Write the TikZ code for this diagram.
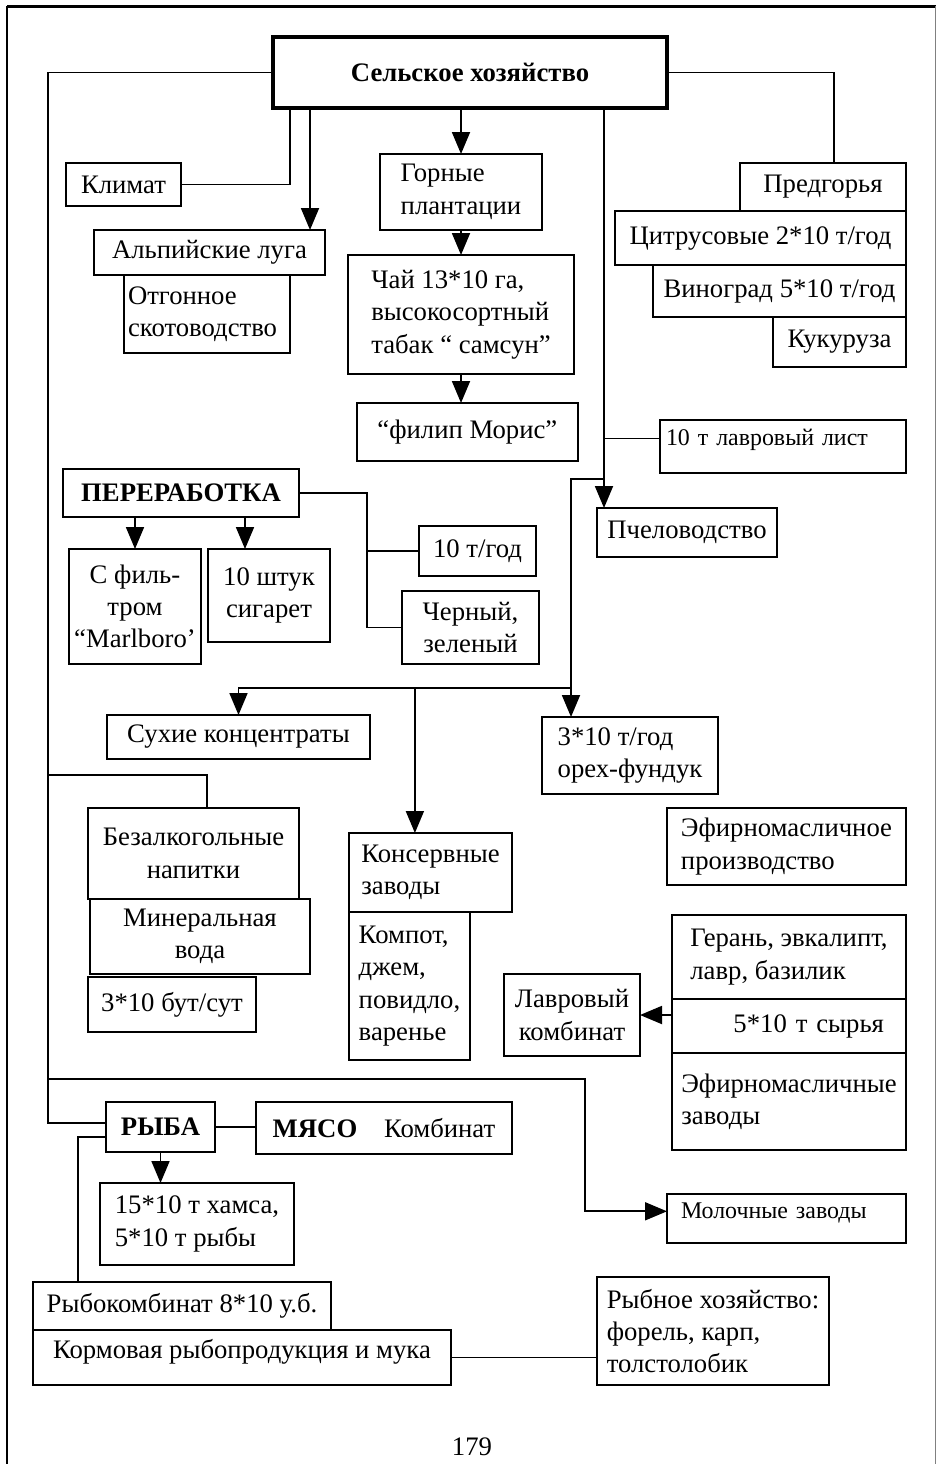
\documentclass[tikz,border=0pt]{standalone}
\usepackage{fontspec}
\setmainfont{Liberation Serif}
\usepackage{tikz}
\usetikzlibrary{
    arrows.meta,
    positioning
}
\newcommand{\chartfont}{\fontsize{19pt}{23pt}\selectfont}
\newcommand{\notefont}{\fontsize{17pt}{20pt}\selectfont}
\tikzset{
    farmhead/.style={
        draw,
        line width=2.6pt,
        outer sep=0pt,
        align=center,
        font=\chartfont\bfseries
    }
}
\tikzset{
    farmbox/.style={
        draw,
        line width=1.5pt,
        outer sep=0pt,
        inner sep=1mm,
        align=center
    }
}
\tikzset{
    farmboxleft/.style={
        farmbox,
        align=left
    }
}
\tikzset{
    sectorhead/.style={
        farmbox,
        font=\chartfont\bfseries
    }
}
\tikzset{
    wh/.style 2 args={
        minimum width=#1,
        minimum height=#2
    }
}
\tikzset{
    link/.style={
        draw,
        line width=1.3pt
    }
}
\tikzset{
    flow/.style={
        draw,
        line width=1.3pt,
        ->,
        >={Triangle[width=4.5mm,length=5.5mm]}
    }
}

\begin{document}
\begin{tikzpicture}[
    font=\chartfont
]
\useasboundingbox (0,0) rectangle (234mm,-366mm);

% page frame
\draw[line width=1.4pt] (1.75mm,-366mm) -- (1.75mm,-1.6mm);
\draw[line width=2.1pt] (1.75mm,-1.6mm) -- (234mm,-1.6mm);
\draw[gray, line width=0.6pt] (233.75mm,-1.6mm) -- (233.75mm,-366mm);

\node[farmhead, wh={98.5mm}{17.75mm}, anchor=north west] (main)
    at (68.25mm,-9.25mm) {Сельское хозяйство};

% mountain side
\node[farmbox, wh={28.75mm}{10.75mm}, below left=13.75mm and 23mm of main.south west] (klimat) {Климат};
\node[farmbox, wh={57.75mm}{11.25mm}, below right=6mm and 7mm of klimat.south west] (alp) {Альпийские луга};
\node[farmboxleft, wh={41.5mm}{19.5mm}, text width=39.5mm, below right=0mm and 7.5mm of alp.south west] (otgon)
    {Отгонное\\скотоводство};

\node[farmboxleft, wh={40.5mm}{19mm}, below right=11.5mm and 26.75mm of main.south west] (gornye)
    {Горные\\плантации};
\node[farmboxleft, wh={56.5mm}{29.75mm}, below=6.25mm of gornye] (chai)
    {Чай 13*10 га,\\высокосортный\\табак “ самсун”};
\node[farmbox, wh={55.25mm}{14.5mm}, below=7.25mm of chai, xshift=1.6mm] (filip) {“филип Морис”};

% foothills
\node[farmbox, wh={41.5mm}{12mm}, below right=13.75mm and 18.25mm of main.south east] (pred) {Предгорья};
\node[farmbox, wh={72.75mm}{13.5mm}, below=0mm of pred.south east, anchor=north east] (citrus)
    {Цитрусовые 2*10 т/год};
\node[farmbox, wh={63.25mm}{13mm}, below=0mm of citrus.south east, anchor=north east] (vinograd)
    {Виноград 5*10 т/год};
\node[farmbox, wh={33.25mm}{12.5mm}, below=0mm of vinograd.south east, anchor=north east] (kukuruza) {Кукуруза};
\node[farmboxleft, wh={61.5mm}{13.25mm}, text width=58.5mm, text depth=4.5mm, font=\notefont,
    below=13.25mm of kukuruza.south east, anchor=north east] (lavrlist) {10 т лавровый лист};
\node[farmbox, wh={45mm}{12.25mm}, below=8.75mm of lavrlist.south west, anchor=north west, xshift=-15.75mm] (pchel)
    {Пчеловодство};

% processing
\node[sectorhead, wh={59mm}{12mm}, below=29mm of otgon.south west, anchor=north west, xshift=-15.25mm] (pererab)
    {ПЕРЕРАБОТКА};
\node[farmbox, wh={33mm}{28.75mm}, below right=8mm and 1.5mm of pererab.south west] (filtr)
    {С филь-\\тром\\“Marlboro’};
\node[farmbox, wh={30.5mm}{23.25mm}, right=1.75mm of filtr.north east, anchor=north west] (shtuk)
    {10 штук\\сигарет};
\node[farmbox, wh={29.25mm}{12.5mm}, below right=14.25mm and 30mm of pererab.north east] (tgod) {10 т/год};
\node[farmbox, wh={34.25mm}{18.25mm}, below=3.75mm of tgod.south west, anchor=north west, xshift=-4.25mm] (cherny)
    {Черный,\\зеленый};

\node[farmbox, wh={65.75mm}{11mm}, below right=12.75mm and 9.5mm of filtr.south west] (sukhie) {Сухие концентраты};
\node[farmboxleft, wh={44mm}{19.25mm}, below=40mm of pchel.south west, anchor=north west, xshift=-13.75mm] (orekh)
    {3*10 т/год\\орех-фундук};

\node[farmbox, wh={52.75mm}{22.75mm}, below=12.25mm of sukhie.south west, anchor=north west, xshift=-4.75mm] (bezalk)
    {Безалкогольные\\напитки};
\node[farmbox, wh={55mm}{18.75mm}, below right=0mm and 0.5mm of bezalk.south west] (miner)
    {Минеральная\\вода};
\node[farmbox, wh={42mm}{13.75mm}, below=0.75mm of miner.south west, anchor=north west, xshift=-0.5mm] (butsut)
    {3*10 бут/сут};

\node[farmboxleft, wh={40.75mm}{19.75mm}, below right=6.25mm and 12.5mm of bezalk.north east] (konserv)
    {Консервные\\заводы};
\node[farmboxleft, wh={30.25mm}{37mm}, below=0mm of konserv.south west, anchor=north west] (kompot)
    {Компот,\\джем,\\повидло,\\варенье};

% essential oils
\node[farmboxleft, wh={59.75mm}{19.25mm}, below right=3.5mm and 31.25mm of orekh.south west] (efirpr)
    {Эфирномасличное\\производство};
\node[farmboxleft, wh={58.5mm}{21mm}, below=7.5mm of efirpr.south east, anchor=north east] (geran)
    {Герань, эвкалипт,\\лавр, базилик};
\node[farmbox, wh={58.5mm}{13.5mm}, text width=47.5mm, align=right,
    below=0mm of geran.south east, anchor=north east] (syrya) {5*10 т сырья};
\node[farmboxleft, wh={58.5mm}{24.25mm}, below=0mm of syrya.south east, anchor=north east] (efirzav)
    {Эфирномасличные\\заводы};
\node[farmbox, wh={34mm}{20.5mm}, left=8mm of syrya.west, yshift=2.75mm] (lavrkomb)
    {Лавровый\\комбинат};

% fish and meat
\node[sectorhead, wh={27.25mm}{12.5mm}, below right=17.5mm and 4.5mm of butsut.south west] (ryba) {РЫБА};
\node[farmbox, wh={64mm}{13mm}, right=10.25mm of ryba.north east, anchor=north west] (myaso)
    {\textbf{МЯСО}\quad Комбинат};
\node[farmboxleft, wh={48.5mm}{20.5mm}, below=7.75mm of ryba.south west, anchor=north west, xshift=-1.5mm] (khamsa)
    {15*10 т хамса,\\5*10 т рыбы};
\node[farmboxleft, wh={59.75mm}{12.25mm}, text width=52.75mm, text depth=3.7mm, font=\notefont,
    below=11mm of efirzav.south east, anchor=north east] (molochn) {Молочные заводы};
\node[farmbox, wh={74.5mm}{12mm}, below=4.25mm of khamsa.south west, anchor=north west, xshift=-16.75mm] (rybokomb)
    {Рыбокомбинат 8*10 у.б.};
\node[farmbox, wh={104.5mm}{13.75mm}, text depth=4.3mm, below=0mm of rybokomb.south west, anchor=north west] (kormovaya)
    {Кормовая рыбопродукция и мука};
\node[farmboxleft, wh={58mm}{27mm}, below=8.5mm of molochn.south west, anchor=north west, xshift=-17.5mm] (rybnoe)
    {Рыбное хозяйство:\\форель, карп,\\толстолобик};

\node[anchor=north, inner sep=0pt] (pagenum) at (118mm,-359.5mm) {179};

% helper points
\coordinate[left=6mm of shtuk.north] (cigtop);
\coordinate[above=2mm of lavrlist.west] (laurelin);
\coordinate[left=14.75mm of orekh.north] (nutdrop);
\coordinate[above=7.25mm of pchel.north] (beefork);
\coordinate[above=7.25mm of nutdrop] (cropfork);
\coordinate[left=3.9mm of konserv.north] (cannerytop);
\coordinate[left=20.5mm of molochn.west, yshift=1.8mm] (milkturn);
\coordinate[above=33mm of milkturn] (milkfork);

% connectors
\draw[link] (main.west) -- ++(-56.25mm,0) coordinate (trunktop) |- ([yshift=1mm]ryba.west);
\draw[link] ([xshift=3.4mm]bezalk.north) -- ++(0,8.25mm) coordinate (napfork) -- (napfork -| trunktop);
\draw[flow] (milkfork -| trunktop) -- (milkfork) -- (milkturn) -- (milkturn -| molochn.west);

\draw[link] (main.east) -| ([xshift=2.75mm]pred.north);
\draw[link] ([xshift=-45mm]main.south) |- (klimat.east);
\draw[flow] ([xshift=-40mm]main.south) -- ([xshift=-40mm]main.south |- alp.north);
\draw[flow] (main.south -| gornye.north) -- (gornye.north);
\draw[flow] (gornye.south) -- (gornye.south |- chai.north);
\draw[flow] (chai.south) -- (chai.south |- filip.north);

\draw[flow] ([xshift=33.5mm]main.south) coordinate (beetop) -- (beetop |- pchel.north);
\draw[link] (laurelin -| beetop) -- (laurelin);
\draw[flow] (beefork -| beetop) -- (beefork -| nutdrop) -- (nutdrop);
\draw[flow] (cropfork) -| (sukhie.north);
\draw[flow] (cropfork -| cannerytop) -- (cannerytop);

\draw[link] (pererab.east) -- ++(17mm,0) coordinate (procfork) |- (cherny.west);
\draw[link] (procfork |- tgod.west) -- (tgod.west);
\draw[flow] (pererab.south -| filtr.north) -- (filtr.north);
\draw[flow] (pererab.south -| cigtop) -- (cigtop);

\draw[flow] (syrya.west |- lavrkomb.east) -- (lavrkomb.east);

\draw[link] (ryba.east) -- (ryba.east -| myaso.west);
\draw[link] ([yshift=-2.5mm]ryba.west) -| ([xshift=-26mm]rybokomb.north);
\draw[flow] (ryba.south) -- (ryba.south |- khamsa.north);
\draw[link] (kormovaya.east) -- (kormovaya.east -| rybnoe.west);

\end{tikzpicture}
\end{document}
